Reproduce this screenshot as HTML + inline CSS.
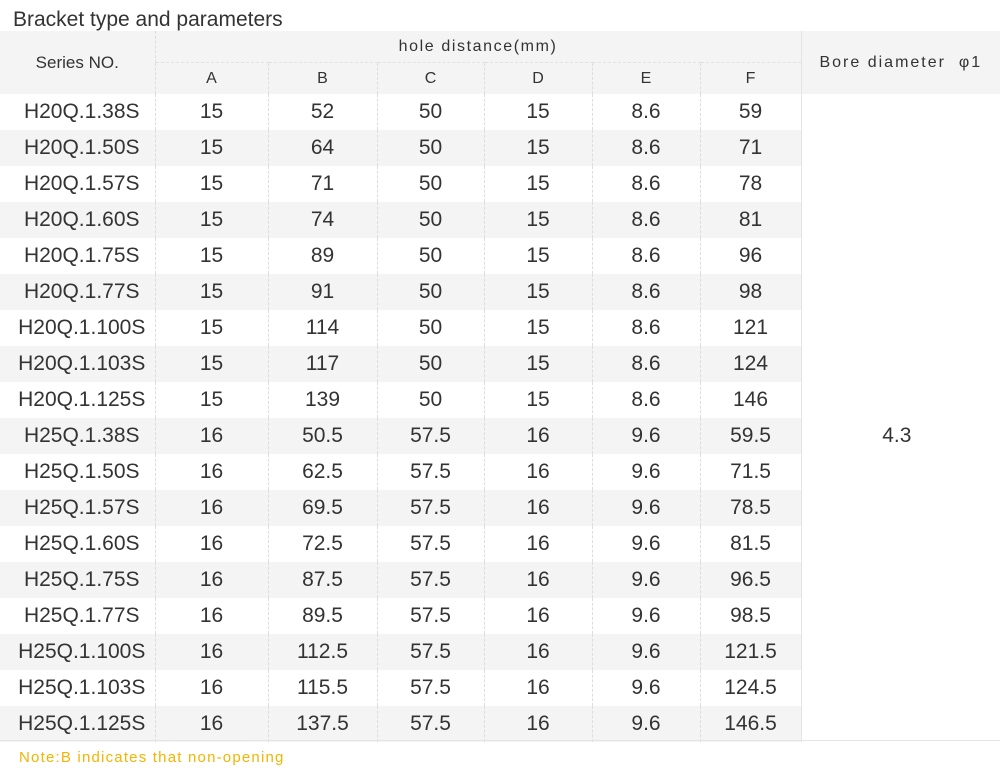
<!DOCTYPE html>
<html><head><meta charset="utf-8"><style>
body{margin:0;width:1000px;height:777px;background:#fff;font-family:"Liberation Sans",Arial,sans-serif;color:#333;position:relative;overflow:hidden}
.title{position:absolute;left:13px;top:8px;font-size:21px;color:#333}
table{position:absolute;left:0;top:31px;border-collapse:collapse;table-layout:fixed;width:1000px}
td{padding:0;text-align:center;border-left:1px dashed #ddd;font-size:21px;height:36px}
tr.h td{background:#f4f4f4;font-size:16px;height:31px}
tr.g td.d{background:#f4f4f4}
td:first-child{border-left:none}
td.s{padding-left:9px}
.sub td{border-top:1px dashed #e2e2e2}
.sub td:first-child{border-left:1px dashed #ddd}
.bore{background:#fff;border-left:1px solid #e4e4e4;padding-top:36px;padding-right:8px}
.note{position:absolute;left:19px;top:749px;font-size:15px;color:#f5b400;letter-spacing:1.2px}
.bline{position:absolute;left:0;top:740px;width:1000px;border-top:1px solid #e4e4e4}
</style></head><body>
<div class="title">Bracket type and parameters</div>
<table>
<colgroup><col style="width:155px"><col style="width:113px"><col style="width:109px"><col style="width:107px"><col style="width:108px"><col style="width:108px"><col style="width:101px"><col style="width:199px"></colgroup>
<tr class="h"><td rowspan="2" style="font-size:17px">Series NO.</td><td colspan="6" style="letter-spacing:1.6px">hole distance(mm)</td><td rowspan="2" style="border-left:1px solid #e4e4e4;letter-spacing:2px">Bore diameter &nbsp;φ1</td></tr>
<tr class="h sub"><td>A</td><td>B</td><td>C</td><td>D</td><td>E</td><td>F</td></tr>
<tr><td class="d s">H20Q.1.38S</td><td class="d">15</td><td class="d">52</td><td class="d">50</td><td class="d">15</td><td class="d">8.6</td><td class="d">59</td><td rowspan="18" class="bore">4.3</td></tr>
<tr class="g"><td class="d s">H20Q.1.50S</td><td class="d">15</td><td class="d">64</td><td class="d">50</td><td class="d">15</td><td class="d">8.6</td><td class="d">71</td></tr>
<tr><td class="d s">H20Q.1.57S</td><td class="d">15</td><td class="d">71</td><td class="d">50</td><td class="d">15</td><td class="d">8.6</td><td class="d">78</td></tr>
<tr class="g"><td class="d s">H20Q.1.60S</td><td class="d">15</td><td class="d">74</td><td class="d">50</td><td class="d">15</td><td class="d">8.6</td><td class="d">81</td></tr>
<tr><td class="d s">H20Q.1.75S</td><td class="d">15</td><td class="d">89</td><td class="d">50</td><td class="d">15</td><td class="d">8.6</td><td class="d">96</td></tr>
<tr class="g"><td class="d s">H20Q.1.77S</td><td class="d">15</td><td class="d">91</td><td class="d">50</td><td class="d">15</td><td class="d">8.6</td><td class="d">98</td></tr>
<tr><td class="d s">H20Q.1.100S</td><td class="d">15</td><td class="d">114</td><td class="d">50</td><td class="d">15</td><td class="d">8.6</td><td class="d">121</td></tr>
<tr class="g"><td class="d s">H20Q.1.103S</td><td class="d">15</td><td class="d">117</td><td class="d">50</td><td class="d">15</td><td class="d">8.6</td><td class="d">124</td></tr>
<tr><td class="d s">H20Q.1.125S</td><td class="d">15</td><td class="d">139</td><td class="d">50</td><td class="d">15</td><td class="d">8.6</td><td class="d">146</td></tr>
<tr class="g"><td class="d s">H25Q.1.38S</td><td class="d">16</td><td class="d">50.5</td><td class="d">57.5</td><td class="d">16</td><td class="d">9.6</td><td class="d">59.5</td></tr>
<tr><td class="d s">H25Q.1.50S</td><td class="d">16</td><td class="d">62.5</td><td class="d">57.5</td><td class="d">16</td><td class="d">9.6</td><td class="d">71.5</td></tr>
<tr class="g"><td class="d s">H25Q.1.57S</td><td class="d">16</td><td class="d">69.5</td><td class="d">57.5</td><td class="d">16</td><td class="d">9.6</td><td class="d">78.5</td></tr>
<tr><td class="d s">H25Q.1.60S</td><td class="d">16</td><td class="d">72.5</td><td class="d">57.5</td><td class="d">16</td><td class="d">9.6</td><td class="d">81.5</td></tr>
<tr class="g"><td class="d s">H25Q.1.75S</td><td class="d">16</td><td class="d">87.5</td><td class="d">57.5</td><td class="d">16</td><td class="d">9.6</td><td class="d">96.5</td></tr>
<tr><td class="d s">H25Q.1.77S</td><td class="d">16</td><td class="d">89.5</td><td class="d">57.5</td><td class="d">16</td><td class="d">9.6</td><td class="d">98.5</td></tr>
<tr class="g"><td class="d s">H25Q.1.100S</td><td class="d">16</td><td class="d">112.5</td><td class="d">57.5</td><td class="d">16</td><td class="d">9.6</td><td class="d">121.5</td></tr>
<tr><td class="d s">H25Q.1.103S</td><td class="d">16</td><td class="d">115.5</td><td class="d">57.5</td><td class="d">16</td><td class="d">9.6</td><td class="d">124.5</td></tr>
<tr class="g"><td class="d s">H25Q.1.125S</td><td class="d">16</td><td class="d">137.5</td><td class="d">57.5</td><td class="d">16</td><td class="d">9.6</td><td class="d">146.5</td></tr>
</table>
<div class="bline"></div>
<div class="note">Note:B indicates that non-opening</div>
</body></html>
